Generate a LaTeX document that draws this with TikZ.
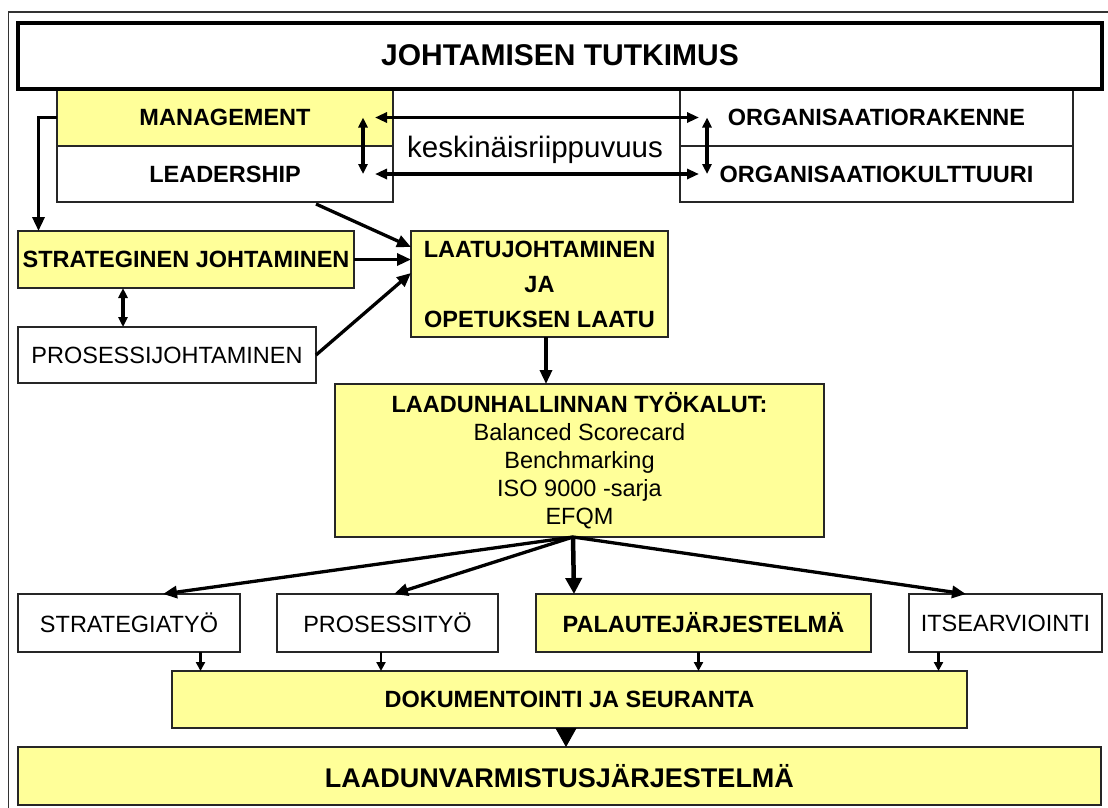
\documentclass[tikz,border=0pt]{standalone}
\usepackage{fontspec}
\setmainfont{Liberation Sans}
\usetikzlibrary{arrows.meta,calc}
\definecolor{boxyellow}{RGB}{255,255,153}
\begin{document}
\begin{tikzpicture}[x=1pt,y=-1pt,
  box/.style={draw=black!85, line width=1.3pt, inner sep=0pt, outer sep=0pt,
    align=center, font=\fontsize{23.5}{28}\selectfont},
  ybox/.style={box, fill=boxyellow},
  wbox/.style={box, fill=white},
  boldtxt/.style={font=\fontsize{23.5}{28}\selectfont\bfseries},
  conn/.style={line width=3.3pt, -{Triangle[length=14pt,width=12pt]}},
  dblarr/.style={line width=3.2pt,
    {Triangle[length=12pt,width=10pt]}-{Triangle[length=12pt,width=10pt]}},
  vdbl/.style={line width=3.2pt,
    {Triangle[length=10pt,width=9pt]}-{Triangle[length=10pt,width=9pt]}},
  smallarr/.style={line width=2.2pt, -{Triangle[length=9pt,width=9pt]}},
]
\clip (0,0) rectangle (1108,807);
% outer frame
\draw[line width=1.2pt, black!80] (8.5,12) rectangle (1115,815);

% top pair of split boxes
\node[ybox, boldtxt, minimum width=336pt, minimum height=57pt] (mgmt) at (225,117.5) {MANAGEMENT};
\node[wbox, boldtxt, minimum width=336pt, minimum height=56pt] (lead) at (225,174) {LEADERSHIP};
\node[wbox, boldtxt, minimum width=393pt, minimum height=57pt] (orgr) at (876.5,117.5) {ORGANISAATIORAKENNE};
\node[wbox, boldtxt, minimum width=393pt, minimum height=56pt] (orgk) at (876.5,174) {ORGANISAATIOKULTTUURI};
\node[anchor=base, inner sep=0pt, font=\fontsize{29.5}{32}\selectfont] (kesk) at (535,157) {keskinäisriippuvuus};

% title
\node[draw=black, line width=4pt, fill=white, inner sep=0pt, minimum width=1084pt, minimum height=66pt,
  font=\fontsize{30}{34}\selectfont\bfseries] (title) at (560,55.5) {JOHTAMISEN TUTKIMUS};

% middle boxes
\node[ybox, boldtxt, minimum width=336pt, minimum height=57pt] (strat) at (186,259.5) {STRATEGINEN JOHTAMINEN};
\node[ybox, font=\fontsize{23.5}{35}\selectfont\bfseries, minimum width=257pt, minimum height=106pt] (laatu) at (539.5,284)
  {LAATUJOHTAMINEN\\JA\\OPETUKSEN LAATU};
\node[wbox, minimum width=298pt, minimum height=56pt] (pjoht) at (167,355) {PROSESSIJOHTAMINEN};
\node[ybox, minimum width=489pt, minimum height=153pt] (tools) at (579.5,460.5)
  {\textbf{LAADUNHALLINNAN TYÖKALUT:}\\Balanced Scorecard\\Benchmarking\\ISO 9000 -sarja\\EFQM};

% row of work areas
\node[wbox, minimum width=222pt, minimum height=58pt] (st) at (129,623) {STRATEGIATYÖ};
\node[wbox, minimum width=221pt, minimum height=58pt] (pt) at (387.5,623) {PROSESSITYÖ};
\node[ybox, boldtxt, minimum width=335pt, minimum height=58pt] (pal) at (703.5,623) {PALAUTEJÄRJESTELMÄ};
\node[wbox, minimum width=193pt, minimum height=58pt] (itse) at (1005.5,623) {ITSEARVIOINTI};

% bottom boxes
\node[ybox, boldtxt, minimum width=795pt, minimum height=57pt] (dok) at (569.5,699.5) {DOKUMENTOINTI JA SEURANTA};
\node[ybox, minimum width=1083pt, minimum height=58pt, font=\fontsize{27}{30}\selectfont\bfseries] (lvm) at (559.5,776) {LAADUNVARMISTUSJÄRJESTELMÄ};

% helper points on box edges
\coordinate (mgL) at ([xshift=-18pt]mgmt.east);
\coordinate (ldL) at ([xshift=-18pt]lead.east);
\coordinate (orR) at ([xshift=19pt]orgr.west);
\coordinate (okR) at ([xshift=19pt]orgk.west);
\coordinate (mgV) at ([xshift=-30pt]mgmt.east);
\coordinate (ldV) at ([xshift=-30pt]lead.east);
\coordinate (orV) at ([xshift=27pt]orgr.west);
\coordinate (okV) at ([xshift=27pt]orgk.west);
\coordinate (stratIn) at ([xshift=20.5pt]strat.north west);
\coordinate (leadOut) at ([xshift=259pt,yshift=-2pt]lead.south west);
\coordinate (laIn1) at ([yshift=-16pt]laatu.north west);
\coordinate (laIn3) at ([yshift=-42pt]laatu.north west);
\coordinate (sjV) at ([xshift=105pt]strat.south west);
\coordinate (laOut) at ([xshift=6.5pt]laatu.south);
\coordinate (fan) at ([xshift=-6.5pt]tools.south);
\coordinate (stIn) at ([xshift=34pt]st.north);
\coordinate (ptIn) at ([xshift=6.5pt]pt.north);
\coordinate (palIn) at ([xshift=-129.5pt]pal.north);
\coordinate (itIn) at ([xshift=-39.5pt]itse.north);
\coordinate (stOut) at ([xshift=71.5pt]st.south);
\coordinate (ptOut) at ([xshift=-6.5pt]pt.south);
\coordinate (palOut) at ([xshift=-5pt]pal.south);
\coordinate (itOut) at ([xshift=-67pt]itse.south);
\coordinate (dokOut) at ([xshift=-3.5pt]dok.south);

% interdependence arrows
\draw[dblarr] (mgL) -- (orR);
\draw[dblarr] (ldL) -- (okR);
\draw[vdbl] (mgV) -- (ldV);
\draw[vdbl] (orV) -- (okV);

% flow into quality management
\draw[conn] (mgmt.west) -| (stratIn);
\draw[conn] (leadOut) -- (laIn1);
\draw[conn] (strat.east) -- (strat.east -| laatu.west);
\draw[conn] (pjoht.east) -- (laIn3);
\draw[vdbl] (sjV) -- (sjV |- pjoht.north);
\draw[conn] (laOut) -- (laOut |- tools.north);

% tools fan out to work areas
\draw[conn] (fan) -- (stIn);
\draw[conn] (fan) -- (ptIn);
\draw[line width=4.5pt, -{Triangle[length=16pt,width=16pt]}] (fan) -- (palIn);
\draw[conn] (fan) -- (itIn);

% work areas into documentation
\draw[smallarr] (stOut) -- (stOut |- dok.north);
\draw[smallarr] (ptOut) -- (ptOut |- dok.north);
\draw[smallarr] (palOut) -- (palOut |- dok.north);
\draw[smallarr] (itOut) -- (itOut |- dok.north);

% documentation into quality assurance system
\draw[line width=1pt, -{Triangle[length=19pt,width=21pt]}] (dokOut) -- (dokOut |- lvm.north);
\end{tikzpicture}
\end{document}
